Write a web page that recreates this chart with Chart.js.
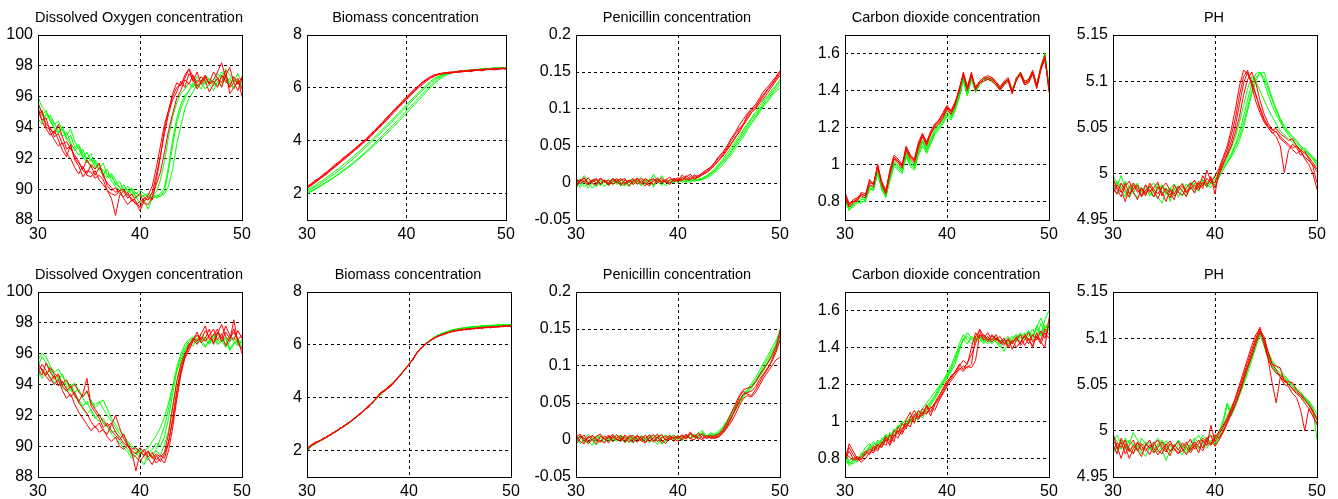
<!DOCTYPE html>
<html>
<head>
<meta charset="utf-8">
<title>Penicillin fermentation – predicted trajectories</title>
<script src="https://cdn.jsdelivr.net/npm/chart.js@4.4.1/dist/chart.umd.min.js"></script>
<style>
  html, body { margin: 0; padding: 0; background: #fff; }
  body { position: relative; width: 1338px; height: 499px; overflow: hidden; }
  canvas { position: absolute; }
</style>
</head>
<body>
<script>
// sampling times (h), shared by every run
const timeAxis = [30,30.4,30.8,31.2,31.6,32,32.4,32.8,33.2,33.6,34,34.4,34.8,35.2,35.6,36,36.4,36.8,37.2,37.6,38,38.4,38.8,39.2,39.6,40,40.4,40.8,41.2,41.6,42,42.4,42.8,43.2,43.6,44,44.4,44.8,45.2,45.6,46,46.4,46.8,47.2,47.6,48,48.4,48.8,49.2,49.6,50]

// axis ticks and their printed labels
const timeTicks = [30, 40, 50]
const timeLabels = ["30", "40", "50"]
const oxygenTicks = [88, 90, 92, 94, 96, 98, 100]
const oxygenLabels = ["88", "90", "92", "94", "96", "98", "100"]
const biomassTicks = [2, 4, 6, 8]
const biomassLabels = ["2", "4", "6", "8"]
const penicillinTicks = [-0.05, 0, 0.05, 0.1, 0.15, 0.2]
const penicillinLabels = ["-0.05", "0", "0.05", "0.1", "0.15", "0.2"]
const co2Ticks = [0.8, 1.0, 1.2, 1.4, 1.6]
const co2Labels = ["0.8", "1", "1.2", "1.4", "1.6"]
const phTicks = [4.95, 5, 5.05, 5.1, 5.15]
const phLabels = ["4.95", "5", "5.05", "5.1", "5.15"]

// ---- upper row ----
// dissolved oxygen
const oxyTopRed1 = [95.6,94.9,94.2,94.0,93.4,93.6,92.9,93.1,92.6,92.2,91.8,91.2,91.0,91.6,91.3,91.7,90.8,90.4,90.1,89.8,89.9,90.0,89.6,89.4,89.0,89.2,89.4,89.6,90.2,91.4,92.8,94.2,95.1,96.0,96.6,96.8,97.2,97.8,97.3,96.7,97.0,97.4,96.8,97.1,97.6,98.2,97.2,96.6,96.9,96.4,97.2]
const oxyTopRed2 = [95.0,94.5,94.6,93.7,93.2,92.8,93.0,92.3,92.0,91.4,91.0,91.5,90.9,90.8,91.2,90.6,90.3,89.9,89.4,88.3,89.6,89.9,89.4,89.7,89.2,88.8,89.4,89.3,89.8,90.9,92.2,93.6,94.9,95.8,96.3,97.0,96.6,97.5,97.1,96.5,96.9,97.3,96.8,97.0,96.6,97.4,97.0,96.7,97.3,96.8,97.3]
const oxyTopRed3 = [94.8,95.1,94.0,93.9,93.6,94.2,93.4,92.6,92.8,92.0,91.7,91.3,91.9,91.5,90.9,91.4,91.0,90.2,89.9,90.1,89.7,89.5,89.8,89.2,89.5,89.7,89.1,89.0,89.5,90.3,91.1,92.4,93.8,94.9,95.9,96.4,97.1,96.8,97.4,96.9,97.3,97.0,96.3,96.8,97.2,96.9,97.7,96.2,96.6,97.0,96.5]
const oxyTopRed4 = [95.3,94.4,93.9,93.5,93.8,93.2,92.5,92.1,92.9,91.9,91.5,90.8,91.2,91.1,90.7,90.9,90.6,89.9,89.7,89.6,89.9,89.4,89.0,89.3,89.1,88.6,89.2,89.5,89.3,90.6,92.1,93.9,95.1,96.2,96.9,96.7,97.4,97.8,97.0,97.6,96.8,97.2,96.9,97.6,97.2,96.6,97.4,97.9,96.9,97.2,96.0]
const oxyTopGreen1 = [96.0,95.3,95.0,94.6,94.2,94.4,93.8,93.5,93.9,93.1,92.6,92.0,92.4,91.8,91.9,91.5,91.2,91.0,90.8,90.4,90.1,89.9,90.0,89.6,89.8,89.5,89.6,89.7,89.4,89.6,89.5,89.9,91.2,92.8,94.3,95.2,95.9,96.4,96.8,96.6,97.0,96.8,97.2,96.9,97.1,97.6,97.3,96.8,97.1,96.9,96.6]
const oxyTopGreen2 = [95.2,94.8,95.1,94.4,93.9,93.6,94.1,93.3,92.9,92.6,92.2,92.6,91.8,91.4,91.8,91.2,90.9,91.3,90.5,90.2,89.9,90.3,89.8,90.0,89.4,89.7,89.5,89.3,89.6,89.8,90.6,91.8,93.4,94.7,95.6,96.2,96.5,96.9,96.6,97.1,96.9,96.5,96.8,97.0,96.7,97.3,96.9,97.2,96.5,97.0,96.8]
const oxyTopGreen3 = [94.6,94.2,94.9,94.5,94.0,93.7,93.9,93.2,93.5,92.7,92.9,92.3,92.0,92.3,91.6,91.3,91.7,90.8,91.0,90.6,90.1,89.8,90.2,89.9,89.5,89.1,89.3,88.7,89.4,89.5,89.7,90.1,91.5,93.2,94.6,95.5,96.1,96.4,96.9,97.3,97.0,97.4,97.1,96.7,97.5,97.2,97.8,97.4,97.0,97.5,96.9]
const oxyTopGreen4 = [95.5,95.0,94.5,94.8,94.3,93.8,93.4,93.7,93.0,92.5,92.8,92.1,91.7,92.0,91.4,91.6,91.0,90.7,90.9,90.3,90.5,89.9,89.6,90.1,89.7,89.9,89.7,89.5,89.8,89.4,89.6,89.7,90.2,91.3,92.9,94.1,95.2,95.9,96.3,96.8,96.5,97.1,96.8,96.4,97.0,96.7,97.4,96.9,96.5,97.1,96.7]

// biomass
const bioTopRed1 = [2.22,2.33,2.45,2.57,2.68,2.80,2.93,3.05,3.17,3.30,3.42,3.54,3.66,3.79,3.92,4.05,4.20,4.35,4.50,4.66,4.82,4.98,5.14,5.30,5.45,5.60,5.76,5.91,6.05,6.18,6.30,6.40,6.47,6.52,6.55,6.57,6.59,6.60,6.62,6.63,6.64,6.65,6.66,6.67,6.68,6.69,6.70,6.71,6.72,6.72,6.73]
const bioTopRed2 = [2.28,2.36,2.50,2.58,2.72,2.83,2.95,3.10,3.20,3.35,3.45,3.58,3.70,3.84,3.95,4.10,4.26,4.38,4.56,4.70,4.88,5.02,5.20,5.34,5.50,5.66,5.80,5.96,6.08,6.22,6.33,6.42,6.49,6.53,6.56,6.58,6.60,6.58,6.63,6.65,6.63,6.67,6.69,6.66,6.70,6.72,6.70,6.74,6.73,6.75,6.74]
const bioTopRed3 = [2.20,2.30,2.40,2.54,2.63,2.76,2.88,3.00,3.14,3.25,3.38,3.50,3.64,3.75,3.90,4.02,4.15,4.32,4.46,4.62,4.76,4.94,5.08,5.26,5.40,5.56,5.70,5.86,6.00,6.12,6.25,6.36,6.44,6.50,6.54,6.56,6.55,6.59,6.61,6.60,6.64,6.62,6.66,6.68,6.67,6.70,6.71,6.69,6.72,6.74,6.72]
const bioTopRed4 = [2.26,2.34,2.44,2.52,2.66,2.74,2.90,3.02,3.12,3.28,3.40,3.56,3.68,3.82,3.96,4.08,4.22,4.40,4.52,4.68,4.84,5.00,5.16,5.32,5.47,5.62,5.78,5.92,6.06,6.20,6.31,6.41,6.48,6.51,6.53,6.57,6.55,6.60,6.58,6.62,6.64,6.61,6.65,6.67,6.64,6.69,6.71,6.68,6.70,6.73,6.70]
const bioTopGreen1 = [2.02,2.10,2.18,2.27,2.36,2.45,2.55,2.65,2.76,2.87,2.98,3.10,3.22,3.35,3.48,3.62,3.76,3.90,4.05,4.20,4.35,4.50,4.65,4.81,4.97,5.13,5.29,5.45,5.61,5.77,5.93,6.08,6.22,6.35,6.45,6.52,6.57,6.60,6.62,6.64,6.66,6.67,6.69,6.70,6.71,6.72,6.73,6.74,6.74,6.75,6.75]
const bioTopGreen2 = [2.08,2.16,2.26,2.34,2.45,2.54,2.66,2.75,2.88,2.98,3.12,3.24,3.36,3.50,3.64,3.78,3.92,4.07,4.22,4.36,4.52,4.66,4.82,4.98,5.12,5.28,5.44,5.60,5.75,5.90,6.04,6.18,6.30,6.40,6.48,6.54,6.58,6.60,6.63,6.62,6.66,6.68,6.66,6.70,6.72,6.70,6.74,6.76,6.73,6.76,6.75]
const bioTopGreen3 = [2.12,2.22,2.30,2.42,2.50,2.62,2.72,2.85,2.94,3.08,3.20,3.32,3.46,3.58,3.72,3.86,4.00,4.14,4.30,4.44,4.60,4.74,4.90,5.05,5.20,5.36,5.52,5.66,5.82,5.96,6.10,6.24,6.36,6.44,6.50,6.55,6.57,6.61,6.63,6.65,6.64,6.67,6.70,6.69,6.72,6.74,6.72,6.75,6.77,6.74,6.76]
const bioTopGreen4 = [1.98,2.07,2.15,2.24,2.34,2.43,2.52,2.63,2.72,2.84,2.94,3.06,3.18,3.30,3.44,3.56,3.70,3.84,3.98,4.12,4.26,4.42,4.56,4.72,4.88,5.04,5.20,5.36,5.52,5.68,5.84,6.00,6.15,6.28,6.40,6.48,6.54,6.58,6.61,6.63,6.65,6.66,6.68,6.69,6.71,6.70,6.73,6.72,6.74,6.76,6.74]

// penicillin
const penTopRed1 = [0.006,0.001,0.007,-0.002,0.002,0.005,-0.001,0.004,0.000,0.006,0.002,-0.003,0.004,0.001,0.006,-0.002,0.003,0.000,-0.004,0.005,0.002,0.007,0.000,0.004,0.006,0.001,0.008,0.004,0.009,0.005,0.008,0.011,0.014,0.018,0.024,0.031,0.038,0.046,0.053,0.060,0.071,0.080,0.089,0.096,0.101,0.112,0.120,0.127,0.134,0.142,0.150]
const penTopRed2 = [-0.004,0.005,0.001,0.007,0.000,-0.003,0.006,0.002,-0.002,0.006,0.000,0.004,0.006,-0.004,0.003,0.005,-0.001,0.006,0.002,-0.002,0.005,0.000,0.004,0.008,0.002,0.005,0.003,0.010,0.005,0.011,0.007,0.012,0.016,0.022,0.027,0.034,0.040,0.048,0.057,0.066,0.074,0.079,0.092,0.098,0.104,0.110,0.118,0.126,0.133,0.140,0.148]
const penTopRed3 = [-0.005,0.003,0.007,0.000,0.004,0.006,-0.002,0.004,-0.003,0.002,0.006,0.000,-0.002,0.004,0.001,0.007,0.000,-0.004,0.004,0.006,0.000,0.004,0.002,-0.002,0.006,0.003,0.011,0.006,0.004,0.009,0.010,0.013,0.015,0.020,0.026,0.030,0.036,0.044,0.052,0.062,0.068,0.078,0.086,0.095,0.100,0.108,0.114,0.122,0.130,0.138,0.145]
const penTopRed4 = [0.005,-0.001,0.003,-0.003,0.004,0.000,0.007,0.001,0.004,-0.002,0.003,0.006,0.000,0.004,-0.002,0.002,0.006,0.003,-0.002,0.002,0.007,0.001,0.005,0.000,0.004,0.007,0.004,0.008,0.012,0.006,0.009,0.014,0.018,0.021,0.028,0.036,0.042,0.050,0.060,0.068,0.078,0.086,0.094,0.100,0.106,0.115,0.124,0.130,0.137,0.144,0.152]
const penTopGreen1 = [0.004,-0.006,0.002,0.007,-0.001,-0.005,0.003,0.001,0.005,-0.002,0.003,-0.004,0.005,0.001,-0.002,0.003,-0.004,0.006,0.001,0.012,0.002,-0.003,0.004,0.000,0.002,0.006,0.001,0.003,0.006,0.002,0.004,0.006,0.008,0.012,0.016,0.022,0.028,0.034,0.041,0.050,0.058,0.066,0.075,0.083,0.090,0.098,0.106,0.113,0.120,0.127,0.133]
const penTopGreen2 = [-0.007,0.002,0.010,0.002,-0.007,-0.001,0.004,-0.005,0.001,0.006,-0.002,0.003,0.001,-0.005,0.004,-0.001,0.003,0.000,0.005,-0.006,0.006,0.000,0.003,-0.002,0.004,0.001,0.007,0.002,0.001,0.005,0.003,0.005,0.007,0.010,0.014,0.019,0.025,0.032,0.038,0.046,0.055,0.062,0.072,0.080,0.088,0.096,0.104,0.110,0.118,0.124,0.128]
const penTopGreen3 = [0.002,0.005,-0.005,0.000,0.003,0.005,-0.002,0.003,-0.004,0.004,0.000,0.006,-0.002,0.003,0.000,0.004,0.007,-0.002,0.002,0.004,0.000,0.010,0.001,0.004,0.000,0.005,0.003,0.001,0.005,0.003,0.005,0.007,0.010,0.014,0.019,0.026,0.032,0.040,0.048,0.056,0.064,0.072,0.080,0.088,0.096,0.104,0.112,0.118,0.126,0.132,0.140]
const penTopGreen4 = [0.005,-0.002,0.003,-0.007,0.001,0.004,-0.004,0.004,-0.001,0.001,0.005,-0.002,-0.004,0.003,0.006,0.000,-0.002,0.004,0.002,-0.003,0.004,0.002,-0.004,0.002,0.006,0.000,0.004,0.005,0.003,0.008,0.004,0.005,0.009,0.013,0.017,0.024,0.030,0.036,0.044,0.053,0.060,0.070,0.078,0.086,0.093,0.100,0.109,0.116,0.123,0.130,0.137]

// carbon dioxide
const co2TopRed1 = [0.84,0.78,0.80,0.81,0.84,0.83,0.91,0.89,0.99,0.90,0.85,0.96,1.04,1.02,0.99,1.09,1.04,1.02,1.10,1.16,1.11,1.16,1.21,1.23,1.26,1.31,1.28,1.33,1.40,1.49,1.41,1.49,1.41,1.44,1.46,1.47,1.46,1.44,1.41,1.44,1.46,1.39,1.46,1.49,1.44,1.45,1.50,1.42,1.52,1.58,1.40]
const co2TopRed2 = [0.82,0.77,0.79,0.82,0.83,0.82,0.89,0.88,1.00,0.89,0.84,0.95,1.03,1.01,0.98,1.08,1.03,1.01,1.09,1.15,1.10,1.17,1.20,1.22,1.25,1.30,1.27,1.32,1.41,1.48,1.40,1.48,1.42,1.45,1.47,1.46,1.45,1.43,1.40,1.43,1.45,1.38,1.47,1.48,1.43,1.44,1.49,1.41,1.51,1.57,1.42]
const co2TopRed3 = [0.85,0.79,0.80,0.80,0.85,0.84,0.90,0.90,0.98,0.91,0.86,0.97,1.05,1.03,1.00,1.10,1.05,1.03,1.12,1.17,1.12,1.18,1.22,1.24,1.28,1.32,1.29,1.34,1.39,1.50,1.42,1.50,1.40,1.45,1.47,1.48,1.47,1.45,1.42,1.45,1.47,1.40,1.45,1.50,1.45,1.46,1.51,1.43,1.53,1.59,1.39]
const co2TopRed4 = [0.83,0.78,0.81,0.82,0.84,0.83,0.92,0.89,1.00,0.90,0.85,0.95,1.03,1.02,0.99,1.09,1.05,1.02,1.11,1.16,1.12,1.17,1.21,1.24,1.27,1.31,1.29,1.33,1.41,1.49,1.41,1.48,1.41,1.44,1.45,1.46,1.47,1.44,1.41,1.44,1.46,1.39,1.46,1.49,1.44,1.45,1.50,1.42,1.52,1.57,1.41]
const co2TopGreen1 = [0.80,0.76,0.77,0.79,0.80,0.80,0.87,0.86,0.96,0.87,0.82,0.92,1.00,0.98,0.96,1.05,1.00,0.98,1.06,1.12,1.07,1.12,1.17,1.20,1.23,1.27,1.25,1.30,1.37,1.46,1.38,1.47,1.40,1.44,1.46,1.46,1.46,1.44,1.41,1.44,1.46,1.40,1.47,1.50,1.45,1.46,1.50,1.43,1.53,1.60,1.41]
const co2TopGreen2 = [0.79,0.77,0.78,0.80,0.81,0.81,0.88,0.86,0.97,0.88,0.83,0.93,1.01,0.99,0.97,1.06,1.01,0.99,1.07,1.13,1.08,1.13,1.18,1.21,1.24,1.28,1.26,1.31,1.38,1.47,1.39,1.46,1.41,1.45,1.47,1.47,1.45,1.43,1.42,1.45,1.45,1.41,1.46,1.49,1.44,1.45,1.49,1.42,1.52,1.59,1.43]
const co2TopGreen3 = [0.81,0.75,0.78,0.80,0.79,0.81,0.86,0.87,0.95,0.86,0.83,0.91,0.99,0.97,0.95,1.04,0.99,0.97,1.05,1.10,1.06,1.11,1.16,1.19,1.22,1.26,1.24,1.29,1.36,1.45,1.37,1.46,1.39,1.43,1.45,1.46,1.45,1.43,1.40,1.43,1.45,1.39,1.46,1.49,1.44,1.45,1.50,1.42,1.52,1.60,1.42]
const co2TopGreen4 = [0.82,0.77,0.79,0.81,0.82,0.82,0.89,0.87,0.97,0.89,0.84,0.94,1.02,1.00,0.97,1.07,1.02,1.00,1.08,1.13,1.09,1.14,1.19,1.22,1.25,1.29,1.27,1.32,1.38,1.47,1.40,1.48,1.41,1.44,1.46,1.47,1.46,1.44,1.41,1.44,1.46,1.40,1.46,1.49,1.44,1.45,1.50,1.43,1.52,1.58,1.42]

// pH
const phTopRed1 = [4.985,4.978,4.990,4.982,4.975,4.988,4.980,4.984,4.976,4.990,4.983,4.978,4.986,4.981,4.974,4.988,4.980,4.977,4.985,4.990,4.983,4.992,4.987,4.995,4.990,4.998,5.006,5.018,5.030,5.048,5.070,5.095,5.112,5.108,5.098,5.085,5.072,5.060,5.052,5.047,5.049,5.043,5.040,5.036,5.038,5.030,5.026,5.022,5.018,5.012,5.005]
const phTopRed2 = [4.990,4.983,4.975,4.987,4.992,4.980,4.972,4.985,4.979,4.983,4.975,4.986,4.980,4.970,4.983,4.978,4.986,4.982,4.975,4.988,4.993,4.985,4.998,4.989,4.993,4.985,4.998,5.010,5.022,5.035,5.052,5.075,5.098,5.110,5.100,5.086,5.070,5.058,5.050,5.045,5.040,5.030,5.001,5.025,5.032,5.028,5.020,5.024,5.016,5.008,4.990]
const phTopRed3 = [4.978,4.988,4.982,4.970,4.985,4.990,4.983,4.976,4.988,4.980,4.985,4.991,4.976,4.984,4.979,4.972,4.985,4.989,4.980,4.986,4.979,4.990,4.984,5.004,4.992,4.990,5.002,5.012,5.020,5.030,5.045,5.062,5.085,5.102,5.110,5.098,5.080,5.065,5.055,5.048,5.045,5.040,5.036,5.032,5.028,5.030,5.024,5.018,5.014,5.010,5.002]
const phTopRed4 = [4.995,4.985,4.980,4.990,4.978,4.983,4.988,4.975,4.982,4.987,4.980,4.973,4.985,4.990,4.982,4.976,4.981,4.987,4.979,4.984,4.988,4.982,4.991,4.986,4.997,4.978,5.004,5.015,5.026,5.042,5.060,5.085,5.105,5.112,5.095,5.078,5.066,5.056,5.050,5.044,5.046,5.038,5.034,5.030,5.026,5.022,5.025,5.016,5.010,5.000,4.983]
const phTopGreen1 = [4.992,4.986,4.998,4.984,4.978,4.990,4.985,4.980,4.988,4.976,4.982,4.989,4.979,4.985,4.970,4.983,4.987,4.981,4.976,4.988,4.992,4.984,4.990,4.987,4.994,4.996,5.002,5.008,5.015,5.022,5.032,5.045,5.062,5.080,5.098,5.108,5.110,5.100,5.086,5.074,5.064,5.056,5.048,5.042,5.036,5.032,5.028,5.024,5.020,5.016,5.010]
const phTopGreen2 = [4.985,4.978,4.982,4.975,4.987,4.980,4.974,4.983,4.978,4.986,4.981,4.975,4.968,4.980,4.985,4.978,4.984,4.990,4.982,4.987,4.980,4.989,4.994,4.985,4.990,4.988,4.996,5.004,5.012,5.020,5.030,5.040,5.055,5.072,5.090,5.104,5.108,5.110,5.096,5.082,5.070,5.060,5.052,5.046,5.040,5.034,5.030,5.026,5.022,5.018,5.014]
const phTopGreen3 = [4.998,4.990,4.984,4.992,4.986,4.979,4.988,4.983,4.977,4.986,4.990,4.982,4.987,4.978,4.984,4.989,4.980,4.976,4.985,4.991,4.986,4.981,4.993,4.988,4.985,4.992,5.000,5.010,5.018,5.028,5.040,5.056,5.074,5.092,5.105,5.100,5.090,5.080,5.070,5.062,5.054,5.046,5.042,5.038,5.034,5.030,5.026,5.028,5.022,5.018,5.012]
const phTopGreen4 = [4.980,4.992,4.986,4.979,4.974,4.984,4.990,4.976,4.983,4.979,4.975,4.984,4.988,4.981,4.977,4.984,4.975,4.983,4.989,4.983,4.990,4.985,4.988,4.992,4.989,4.994,5.000,5.006,5.012,5.018,5.026,5.036,5.050,5.068,5.086,5.100,5.110,5.104,5.092,5.080,5.068,5.058,5.050,5.044,5.040,5.036,5.030,5.026,5.020,5.016,5.008]

// ---- lower row ----
// dissolved oxygen
const oxyBotRed1 = [95.2,95.0,94.6,95.1,94.7,94.5,94.1,94.3,93.8,94.0,93.5,93.2,93.6,92.8,92.4,92.0,91.6,91.3,91.5,90.9,90.6,90.2,90.0,89.8,89.9,89.6,89.4,89.7,89.2,89.5,89.3,89.6,90.8,92.5,94.2,95.3,96.0,96.5,97.0,96.8,97.3,97.8,96.9,97.2,97.6,96.8,97.4,97.0,97.6,96.9,97.2]
const oxyBotRed2 = [95.0,94.6,95.4,94.8,94.4,94.7,93.9,93.6,93.9,93.3,92.9,93.4,94.4,92.6,92.2,91.8,91.2,91.5,91.0,90.7,90.4,90.8,90.1,89.6,88.4,89.5,89.8,89.3,89.6,89.1,89.4,89.2,90.2,91.8,93.6,95.0,95.9,96.6,96.9,97.4,96.7,97.0,97.6,96.6,97.3,97.9,97.1,96.8,98.2,96.7,96.3]
const oxyBotRed3 = [95.4,94.9,94.5,94.2,94.6,93.9,94.2,93.7,93.2,93.5,92.8,92.5,92.1,91.6,91.2,91.5,91.0,90.8,91.4,92.0,91.2,90.5,90.0,89.7,89.5,89.9,89.6,89.2,88.8,89.4,89.0,89.5,90.3,91.6,93.3,94.8,95.7,96.2,96.8,97.2,96.9,97.5,97.1,96.7,97.4,97.0,97.8,97.2,96.9,97.5,97.0]
const oxyBotRed4 = [94.8,95.3,94.9,94.4,94.0,94.3,93.6,93.1,93.4,92.7,92.2,91.8,91.4,91.0,91.3,90.9,91.1,90.6,90.3,90.6,90.0,89.8,90.1,89.5,89.3,89.0,89.4,89.6,89.3,88.9,89.2,88.9,89.7,91.2,93.0,94.6,95.8,96.4,96.9,96.6,97.1,96.8,97.2,97.6,96.9,97.3,96.5,97.0,97.4,96.9,96.0]
const oxyBotGreen1 = [95.6,96.0,95.8,95.2,94.8,95.0,94.5,94.2,93.9,94.1,93.6,93.2,93.5,92.9,92.7,92.9,92.4,92.0,91.6,91.2,90.8,90.5,90.2,89.9,89.7,89.5,89.7,89.9,90.3,90.7,91.2,91.9,92.8,93.9,94.9,95.8,96.4,96.8,97.0,96.7,96.9,96.5,96.8,97.0,96.6,96.9,96.4,96.8,97.1,96.6,96.9]
const oxyBotGreen2 = [94.5,95.0,94.7,94.9,94.3,94.6,93.9,94.2,93.6,93.4,93.0,92.6,92.9,92.3,91.8,92.1,91.5,91.2,90.9,91.0,90.4,90.1,89.8,89.4,89.6,89.2,88.8,89.5,89.8,90.2,90.0,90.6,91.8,93.4,94.8,95.6,96.2,96.6,96.9,97.2,96.8,97.1,96.7,97.3,96.8,97.0,96.6,97.2,96.8,96.5,96.9]
const oxyBotGreen3 = [95.2,95.8,95.4,95.0,94.6,94.3,94.7,93.8,94.0,93.5,93.7,93.1,92.7,93.0,92.5,92.8,93.0,92.4,91.8,91.4,91.0,90.7,90.3,90.0,89.8,89.6,89.4,89.6,89.3,89.8,90.5,91.3,92.4,93.8,95.1,96.0,96.6,96.9,97.1,96.8,97.3,96.9,96.6,97.0,97.4,96.8,97.1,96.3,96.7,97.0,96.4]
const oxyBotGreen4 = [94.9,94.4,94.8,94.5,94.1,94.4,93.8,93.5,93.8,93.2,92.9,92.4,92.1,92.4,91.9,91.6,91.8,91.3,90.8,90.5,90.2,89.9,89.6,89.2,89.4,89.8,89.3,89.1,89.5,89.7,89.4,90.1,91.0,92.6,94.1,95.3,96.2,96.7,96.5,97.0,96.7,96.4,96.9,97.2,96.6,96.8,97.0,96.2,96.6,96.9,96.7]

// biomass
const bioBotRed1 = [2.08,2.20,2.30,2.36,2.44,2.53,2.63,2.72,2.82,2.92,3.02,3.14,3.26,3.39,3.52,3.66,3.80,3.98,4.14,4.26,4.40,4.54,4.70,4.88,5.06,5.26,5.46,5.72,5.88,6.02,6.14,6.24,6.32,6.38,6.43,6.48,6.52,6.55,6.57,6.59,6.61,6.62,6.63,6.65,6.66,6.67,6.68,6.69,6.70,6.71,6.72]
const bioBotRed2 = [2.00,2.18,2.26,2.38,2.42,2.56,2.60,2.74,2.80,2.95,3.00,3.16,3.24,3.42,3.50,3.70,3.78,4.00,4.20,4.28,4.36,4.50,4.74,4.86,5.10,5.24,5.50,5.70,5.90,6.00,6.16,6.22,6.34,6.36,6.46,6.47,6.55,6.53,6.60,6.56,6.63,6.60,6.66,6.62,6.68,6.64,6.70,6.67,6.72,6.69,6.70]
const bioBotRed3 = [2.10,2.16,2.32,2.34,2.47,2.50,2.66,2.70,2.85,2.90,3.05,3.12,3.29,3.36,3.55,3.62,3.84,3.95,4.18,4.24,4.44,4.52,4.68,4.90,5.04,5.28,5.44,5.74,5.86,6.04,6.12,6.26,6.30,6.40,6.41,6.50,6.50,6.57,6.55,6.61,6.58,6.64,6.61,6.67,6.64,6.69,6.66,6.71,6.68,6.73,6.68]
const bioBotRed4 = [2.05,2.22,2.28,2.35,2.45,2.52,2.62,2.73,2.81,2.93,3.03,3.13,3.27,3.38,3.53,3.65,3.81,3.97,4.15,4.30,4.38,4.56,4.71,4.87,5.07,5.25,5.47,5.71,5.89,6.01,6.15,6.23,6.33,6.37,6.44,6.47,6.53,6.54,6.58,6.58,6.62,6.61,6.64,6.64,6.67,6.66,6.69,6.68,6.71,6.70,6.71]
const bioBotGreen1 = [2.04,2.18,2.28,2.35,2.43,2.52,2.62,2.71,2.81,2.91,3.01,3.13,3.25,3.38,3.51,3.65,3.79,3.96,4.12,4.26,4.41,4.55,4.71,4.89,5.07,5.27,5.47,5.70,5.87,6.02,6.15,6.26,6.35,6.42,6.48,6.53,6.57,6.60,6.62,6.64,6.66,6.67,6.69,6.70,6.71,6.72,6.73,6.74,6.75,6.76,6.76]
const bioBotGreen2 = [1.98,2.15,2.25,2.37,2.42,2.55,2.61,2.73,2.80,2.94,3.00,3.15,3.23,3.40,3.50,3.67,3.77,3.99,4.10,4.29,4.38,4.57,4.69,4.92,5.04,5.29,5.45,5.73,5.85,6.05,6.13,6.28,6.33,6.44,6.46,6.55,6.55,6.62,6.60,6.66,6.64,6.69,6.67,6.72,6.69,6.74,6.71,6.76,6.73,6.78,6.74]
const bioBotGreen3 = [2.10,2.21,2.31,2.34,2.46,2.51,2.64,2.70,2.83,2.90,3.04,3.12,3.28,3.37,3.54,3.63,3.82,3.96,4.16,4.25,4.43,4.53,4.72,4.87,5.08,5.24,5.48,5.69,5.90,6.00,6.17,6.24,6.36,6.40,6.50,6.51,6.58,6.58,6.63,6.62,6.67,6.66,6.70,6.68,6.73,6.71,6.75,6.72,6.77,6.74,6.76]
const bioBotGreen4 = [2.06,2.19,2.27,2.36,2.44,2.53,2.63,2.72,2.82,2.92,3.02,3.14,3.26,3.39,3.52,3.66,3.80,3.97,4.13,4.27,4.40,4.55,4.70,4.88,5.06,5.26,5.46,5.71,5.88,6.03,6.16,6.27,6.36,6.43,6.49,6.54,6.58,6.61,6.64,6.66,6.68,6.69,6.71,6.72,6.73,6.74,6.75,6.76,6.76,6.77,6.77]

// penicillin
const penBotRed1 = [0.004,0.008,-0.002,0.005,0.000,-0.005,0.005,0.001,0.007,-0.002,0.003,0.006,-0.001,0.006,0.002,-0.003,0.005,0.002,0.007,-0.001,0.004,-0.004,0.003,0.006,0.002,-0.002,0.003,0.006,0.002,0.000,0.006,0.008,0.003,0.006,0.004,0.006,0.012,0.020,0.030,0.040,0.052,0.062,0.064,0.066,0.072,0.082,0.090,0.098,0.106,0.118,0.135]
const penBotRed2 = [-0.006,0.002,0.007,-0.005,0.000,0.005,0.008,0.002,-0.004,0.005,0.001,-0.002,0.007,0.002,-0.003,0.005,0.000,0.007,-0.002,0.003,0.008,0.000,-0.005,0.004,0.002,0.006,0.000,0.008,0.002,0.006,0.003,0.000,0.006,0.002,0.003,0.005,0.010,0.018,0.028,0.042,0.058,0.066,0.062,0.060,0.068,0.078,0.088,0.096,0.108,0.122,0.148]
const penBotRed3 = [0.007,-0.002,-0.005,0.003,0.006,0.000,-0.003,0.005,0.002,0.008,0.000,0.003,-0.003,0.005,0.006,0.001,-0.001,-0.004,0.004,0.007,-0.002,0.003,0.005,0.000,0.006,0.002,0.007,0.003,0.011,0.005,0.001,0.006,0.002,0.004,0.002,0.004,0.009,0.016,0.024,0.034,0.046,0.056,0.060,0.058,0.064,0.074,0.084,0.092,0.100,0.108,0.112]
const penBotRed4 = [0.000,0.005,0.002,-0.003,0.006,0.002,-0.001,-0.004,0.005,0.002,0.007,0.000,0.004,-0.003,0.002,0.006,0.002,-0.002,0.003,-0.003,0.004,0.007,0.000,0.003,-0.002,0.004,0.006,0.001,0.009,0.004,0.010,0.002,0.006,0.004,0.006,0.008,0.014,0.024,0.036,0.048,0.060,0.068,0.070,0.072,0.078,0.088,0.096,0.104,0.114,0.126,0.142]
const penBotGreen1 = [0.005,-0.005,0.001,0.008,0.002,-0.007,-0.001,0.005,0.000,0.003,-0.002,0.005,-0.004,0.003,0.000,0.007,-0.002,0.002,0.005,0.000,-0.006,0.003,0.007,0.000,0.004,0.001,0.006,0.002,0.007,0.003,0.008,0.013,0.004,0.008,0.008,0.012,0.018,0.026,0.036,0.046,0.054,0.062,0.068,0.074,0.080,0.088,0.096,0.106,0.116,0.130,0.150]
const penBotGreen2 = [-0.005,0.007,0.002,-0.002,-0.007,0.003,0.006,0.000,0.004,-0.003,0.002,0.007,0.001,-0.003,0.004,0.000,0.006,0.002,-0.004,0.004,0.006,-0.006,0.000,0.004,0.007,0.001,0.005,0.002,0.008,0.003,0.006,0.010,0.005,0.007,0.007,0.010,0.016,0.024,0.034,0.044,0.052,0.060,0.066,0.072,0.080,0.090,0.100,0.110,0.120,0.128,0.132]
const penBotGreen3 = [0.002,0.004,-0.004,0.005,0.000,0.006,0.002,-0.003,0.004,0.000,0.007,0.002,-0.003,0.002,0.006,0.000,0.004,-0.003,0.002,0.007,0.002,0.008,-0.002,0.004,0.000,0.006,0.002,0.007,0.003,0.008,0.004,0.009,0.005,0.010,0.006,0.009,0.014,0.022,0.032,0.040,0.050,0.058,0.064,0.070,0.078,0.086,0.094,0.104,0.112,0.122,0.140]
const penBotGreen4 = [-0.002,0.005,0.000,-0.005,0.003,-0.002,0.005,0.002,-0.003,0.006,0.000,0.002,0.006,0.000,-0.004,0.002,0.005,0.000,0.007,0.002,-0.002,0.004,0.000,0.006,0.002,0.004,-0.001,0.005,0.002,0.007,0.003,0.008,0.004,0.006,0.005,0.008,0.012,0.020,0.030,0.040,0.050,0.060,0.068,0.076,0.084,0.094,0.104,0.114,0.124,0.134,0.145]

// carbon dioxide
const co2BotRed1 = [0.80,0.86,0.82,0.79,0.80,0.82,0.84,0.83,0.87,0.86,0.90,0.88,0.93,0.91,0.96,0.99,0.97,1.03,1.01,1.05,1.04,1.08,1.06,1.11,1.15,1.19,1.22,1.25,1.28,1.30,1.29,1.31,1.46,1.49,1.44,1.46,1.43,1.45,1.42,1.44,1.41,1.44,1.40,1.43,1.46,1.42,1.47,1.44,1.49,1.45,1.52]
const co2BotRed2 = [0.78,0.88,0.84,0.80,0.78,0.80,0.83,0.86,0.84,0.89,0.87,0.93,0.89,0.97,0.94,1.01,1.05,0.99,1.06,1.03,1.09,1.05,1.10,1.13,1.18,1.22,1.24,1.27,1.31,1.28,1.32,1.36,1.42,1.50,1.46,1.43,1.47,1.44,1.46,1.42,1.45,1.39,1.44,1.47,1.41,1.45,1.40,1.48,1.43,1.40,1.56]
const co2BotRed3 = [0.83,0.81,0.79,0.80,0.81,0.84,0.82,0.87,0.85,0.88,0.92,0.89,0.95,0.93,0.99,0.96,1.02,1.06,1.02,1.04,1.08,1.03,1.09,1.12,1.16,1.20,1.25,1.26,1.29,1.27,1.30,1.29,1.33,1.47,1.45,1.48,1.44,1.47,1.43,1.41,1.44,1.42,1.46,1.41,1.44,1.48,1.43,1.46,1.42,1.48,1.45]
const co2BotRed4 = [0.79,0.84,0.80,0.81,0.79,0.83,0.85,0.84,0.88,0.86,0.91,0.87,0.92,0.95,0.93,0.98,1.00,1.04,1.02,1.07,1.05,1.07,1.10,1.14,1.17,1.21,1.23,1.27,1.30,1.33,1.31,1.40,1.48,1.45,1.47,1.44,1.46,1.45,1.43,1.45,1.40,1.43,1.45,1.42,1.47,1.44,1.41,1.46,1.44,1.50,1.47]
const co2BotGreen1 = [0.85,0.78,0.77,0.79,0.81,0.84,0.86,0.85,0.89,0.87,0.92,0.90,0.96,0.94,0.99,0.97,1.01,1.00,1.04,1.02,1.06,1.09,1.12,1.16,1.20,1.23,1.27,1.31,1.38,1.45,1.42,1.46,1.44,1.47,1.43,1.45,1.42,1.44,1.41,1.38,1.43,1.45,1.47,1.43,1.46,1.49,1.44,1.52,1.47,1.55,1.60]
const co2BotGreen2 = [0.80,0.76,0.78,0.80,0.82,0.86,0.88,0.84,0.90,0.88,0.93,0.91,0.94,0.98,0.96,1.00,0.99,1.02,1.01,1.05,1.08,1.11,1.14,1.18,1.21,1.24,1.28,1.34,1.42,1.47,1.44,1.42,1.45,1.43,1.46,1.44,1.43,1.45,1.44,1.42,1.44,1.46,1.43,1.47,1.44,1.46,1.50,1.45,1.53,1.48,1.52]
const co2BotGreen3 = [0.77,0.79,0.80,0.78,0.83,0.82,0.87,0.89,0.86,0.91,0.89,0.94,0.92,0.97,1.00,0.98,1.03,1.01,1.04,1.07,1.10,1.13,1.16,1.19,1.22,1.26,1.30,1.36,1.40,1.44,1.48,1.45,1.43,1.46,1.44,1.42,1.45,1.43,1.40,1.44,1.46,1.42,1.45,1.48,1.45,1.49,1.46,1.51,1.56,1.50,1.54]
const co2BotGreen4 = [0.82,0.77,0.79,0.81,0.80,0.83,0.85,0.88,0.87,0.90,0.93,0.92,0.95,0.97,0.99,1.01,1.00,1.03,1.06,1.04,1.07,1.10,1.13,1.17,1.21,1.25,1.29,1.33,1.39,1.44,1.46,1.44,1.46,1.45,1.42,1.45,1.44,1.46,1.43,1.45,1.42,1.44,1.47,1.45,1.48,1.44,1.47,1.50,1.46,1.52,1.49]

// pH
const phBotRed1 = [4.998,4.980,4.988,4.975,4.984,4.990,4.978,4.986,4.981,4.974,4.985,4.990,4.982,4.977,4.986,4.980,4.975,4.983,4.988,4.979,4.985,4.976,4.990,4.984,5.006,4.988,4.997,5.004,5.012,5.022,5.034,5.046,5.060,5.074,5.088,5.100,5.112,5.098,5.082,5.072,5.066,5.058,5.054,5.050,5.045,5.040,5.036,5.030,5.024,5.016,5.008]
const phBotRed2 = [4.985,4.975,4.992,4.983,4.970,4.981,4.987,4.979,4.984,4.990,4.976,4.982,4.988,4.980,4.973,4.985,4.979,4.987,4.982,4.976,4.984,4.990,4.981,4.993,4.985,4.996,4.992,5.000,5.010,5.020,5.030,5.042,5.056,5.070,5.084,5.098,5.108,5.102,5.086,5.072,5.070,5.068,5.053,5.053,5.052,5.044,5.040,5.034,5.028,5.020,5.012]
const phBotRed3 = [4.990,4.983,4.970,4.986,4.980,4.975,4.988,4.983,4.978,4.985,4.981,4.974,4.980,4.986,4.978,4.983,4.988,4.980,4.974,4.982,4.988,4.983,4.978,4.990,4.995,4.983,4.990,4.998,5.008,5.018,5.028,5.040,5.054,5.068,5.080,5.094,5.106,5.100,5.078,5.052,5.030,5.058,5.050,5.048,5.040,5.036,5.022,5.000,5.024,5.016,5.006]
const phBotRed4 = [4.978,4.987,4.982,4.990,4.977,4.984,4.979,4.972,4.986,4.981,4.988,4.979,4.975,4.984,4.989,4.981,4.976,4.978,4.985,4.991,4.980,4.986,4.992,4.988,4.984,4.993,4.999,5.006,5.014,5.024,5.036,5.050,5.064,5.078,5.092,5.104,5.110,5.094,5.078,5.068,5.062,5.060,5.056,5.050,5.046,5.042,5.038,5.034,5.028,5.022,5.012]
const phBotGreen1 = [4.995,4.988,4.980,4.992,4.986,4.998,4.990,4.984,4.988,4.980,4.986,4.992,4.984,4.979,4.986,4.982,4.990,4.984,4.979,4.986,4.992,4.987,4.995,4.990,4.986,4.992,4.998,5.012,5.030,5.020,5.030,5.040,5.052,5.066,5.080,5.094,5.106,5.096,5.080,5.068,5.064,5.060,5.058,5.052,5.048,5.044,5.040,5.036,5.030,5.022,5.014]
const phBotGreen2 = [4.982,4.976,4.985,4.990,4.981,4.975,4.984,4.978,4.972,4.983,4.979,4.986,4.980,4.968,4.978,4.985,4.980,4.974,4.983,4.978,4.986,4.980,4.988,4.984,4.990,4.986,4.994,5.004,5.016,5.026,5.034,5.046,5.058,5.070,5.082,5.096,5.108,5.098,5.084,5.074,5.066,5.062,5.058,5.054,5.048,5.044,5.040,5.036,5.032,5.024,4.990]
const phBotGreen3 = [4.988,4.995,4.986,4.980,4.990,4.984,4.979,4.992,4.986,4.981,4.976,4.985,4.990,4.983,4.977,4.984,4.989,4.981,4.986,4.980,4.990,4.995,4.987,4.992,4.996,4.990,5.000,5.008,5.028,5.016,5.026,5.038,5.050,5.062,5.076,5.090,5.104,5.100,5.086,5.076,5.070,5.066,5.060,5.055,5.050,5.046,5.042,5.036,5.032,5.026,5.018]
const phBotGreen4 = [4.976,4.983,4.990,4.984,4.978,4.986,4.981,4.975,4.983,4.988,4.982,4.977,4.984,4.989,4.983,4.978,4.985,4.980,4.976,4.984,4.988,4.982,4.986,4.981,4.988,4.984,4.992,5.000,5.010,5.020,5.030,5.042,5.054,5.068,5.082,5.094,5.104,5.092,5.078,5.070,5.064,5.058,5.054,5.050,5.046,5.040,5.038,5.032,5.028,5.020,5.012]

const FONT = "Liberation Sans"
const Y_AXIS_W = 48      // room left of each plot box for tick labels
const X_AXIS_H = 22      // room under each plot box for tick labels
const TOP_SPACE = 35     // title band above each plot box
const ROW_OFFSET = 257

const titleOxygen = "Dissolved Oxygen concentration"
const titleBiomass = "Biomass concentration"
const titlePenicillin = "Penicillin concentration"
const titleCo2 = "Carbon dioxide concentration"
const titlePh = "PH"

const oxygenAxis = { min: 88, max: 100, ticks: oxygenTicks, labels: oxygenLabels }
const biomassAxis = { min: 1, max: 8, ticks: biomassTicks, labels: biomassLabels }
const penicillinAxis = { min: -0.05, max: 0.2, ticks: penicillinTicks, labels: penicillinLabels }
const co2Axis = { min: 0.7, max: 1.7, ticks: co2Ticks, labels: co2Labels }
const phAxis = { min: 4.95, max: 5.15, ticks: phTicks, labels: phLabels }

const panels = [
    { row: 0, left: 38, width: 204, title: titleOxygen, axis: oxygenAxis,
      red: [oxyTopRed1, oxyTopRed2, oxyTopRed3, oxyTopRed4], green: [oxyTopGreen1, oxyTopGreen2, oxyTopGreen3, oxyTopGreen4] },
    { row: 0, left: 307, width: 199, title: titleBiomass, axis: biomassAxis,
      red: [bioTopRed1, bioTopRed2, bioTopRed3, bioTopRed4], green: [bioTopGreen1, bioTopGreen2, bioTopGreen3, bioTopGreen4] },
    { row: 0, left: 576, width: 204, title: titlePenicillin, axis: penicillinAxis,
      red: [penTopRed1, penTopRed2, penTopRed3, penTopRed4], green: [penTopGreen1, penTopGreen2, penTopGreen3, penTopGreen4] },
    { row: 0, left: 845, width: 204, title: titleCo2, axis: co2Axis,
      red: [co2TopRed1, co2TopRed2, co2TopRed3, co2TopRed4], green: [co2TopGreen1, co2TopGreen2, co2TopGreen3, co2TopGreen4] },
    { row: 0, left: 1113, width: 204, title: titlePh, axis: phAxis,
      red: [phTopRed1, phTopRed2, phTopRed3, phTopRed4], green: [phTopGreen1, phTopGreen2, phTopGreen3, phTopGreen4] },
    { row: 1, left: 38, width: 204, title: titleOxygen, axis: oxygenAxis,
      red: [oxyBotRed1, oxyBotRed2, oxyBotRed3, oxyBotRed4], green: [oxyBotGreen1, oxyBotGreen2, oxyBotGreen3, oxyBotGreen4] },
    { row: 1, left: 307, width: 204, title: titleBiomass, axis: biomassAxis,
      red: [bioBotRed1, bioBotRed2, bioBotRed3, bioBotRed4], green: [bioBotGreen1, bioBotGreen2, bioBotGreen3, bioBotGreen4] },
    { row: 1, left: 576, width: 204, title: titlePenicillin, axis: penicillinAxis,
      red: [penBotRed1, penBotRed2, penBotRed3, penBotRed4], green: [penBotGreen1, penBotGreen2, penBotGreen3, penBotGreen4] },
    { row: 1, left: 845, width: 204, title: titleCo2, axis: co2Axis,
      red: [co2BotRed1, co2BotRed2, co2BotRed3, co2BotRed4], green: [co2BotGreen1, co2BotGreen2, co2BotGreen3, co2BotGreen4] },
    { row: 1, left: 1113, width: 204, title: titlePh, axis: phAxis,
      red: [phBotRed1, phBotRed2, phBotRed3, phBotRed4], green: [phBotGreen1, phBotGreen2, phBotGreen3, phBotGreen4] },
]

// title centred over the plot box, not over the whole canvas
const panelTitle = {
    id: "panelTitle",
    afterDraw(chart, args, opts) {
        const { ctx, chartArea } = chart
        ctx.save()
        ctx.font = `14.5px "${FONT}"`
        ctx.fillStyle = "#000"
        ctx.textAlign = "center"
        ctx.textBaseline = "middle"
        ctx.fillText(opts.text, (chartArea.left + chartArea.right) / 2 - 1, 18)
        ctx.restore()
    },
}

// closed black box around the plot area
const frame = {
    id: "frame",
    afterDatasetsDraw(chart) {
        const { ctx, chartArea: a } = chart
        ctx.save()
        ctx.strokeStyle = "#000"
        ctx.lineWidth = 1
        ctx.setLineDash([])
        ctx.strokeRect(Math.round(a.left) + 0.5, Math.round(a.top) + 0.5, Math.round(a.width), Math.round(a.height))
        ctx.restore()
    },
}

function axisOptions(min, max, ticks, labels, isX) {
    return {
        type: "linear",
        min,
        max,
        afterBuildTicks: scale => {
            scale.ticks = ticks.map(v => ({ value: v }))
        },
        afterFit: scale => {
            if (isX) scale.height = X_AXIS_H
            else scale.width = Y_AXIS_W
        },
        ticks: {
            autoSkip: false,
            maxRotation: 0,
            padding: 5,
            color: "#000",
            font: { family: FONT, size: 16 },
            callback: (value, index) => labels[index],
        },
        grid: { color: "#000", lineWidth: 1, drawTicks: false },
        border: { display: false, dash: [3, 3] },
    }
}

function renderPanel(p) {
    const top = p.row * ROW_OFFSET
    const height = p.row === 0 ? ROW_OFFSET : 499 - ROW_OFFSET
    const rightPad = Math.min(25, 1338 - p.left - p.width)
    const canvas = document.createElement("canvas")
    canvas.width = Y_AXIS_W + p.width + rightPad
    canvas.height = height
    canvas.style.left = (p.left - Y_AXIS_W) + "px"
    canvas.style.top = top + "px"
    document.body.appendChild(canvas)

    const toPoints = values => values.map((v, i) => ({ x: timeAxis[i], y: v }))
    // first dataset is painted last, so the red runs sit on top of the green ones
    const datasets = [
        ...p.red.map(values => ({ data: toPoints(values), borderColor: "#ff0000" })),
        ...p.green.map(values => ({ data: toPoints(values), borderColor: "#00ff00" })),
    ]

    new Chart(canvas, {
        type: "line",
        data: { datasets },
        options: {
            responsive: false,
            animation: false,
            devicePixelRatio: 1,
            events: [],
            layout: {
                padding: { top: TOP_SPACE, left: 0, right: rightPad, bottom: height - X_AXIS_H - TOP_SPACE - 185 },
            },
            elements: {
                line: { borderWidth: 1, tension: 0, fill: false },
                point: { radius: 0 },
            },
            plugins: {
                legend: { display: false },
                tooltip: { enabled: false },
                panelTitle: { text: p.title },
            },
            scales: {
                x: axisOptions(30, 50, timeTicks, timeLabels, true),
                y: axisOptions(p.axis.min, p.axis.max, p.axis.ticks, p.axis.labels, false),
            },
        },
        plugins: [panelTitle, frame],
    })
}

panels.forEach(renderPanel)
</script>
</body>
</html>
